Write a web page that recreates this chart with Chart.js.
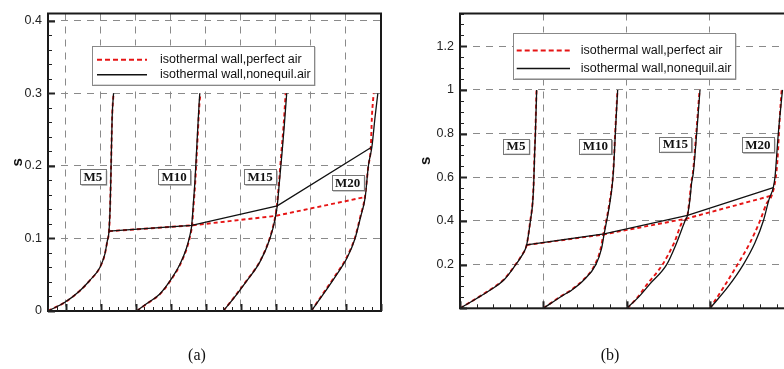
<!DOCTYPE html>
<html>
<head>
<meta charset="utf-8">
<script src="https://cdn.jsdelivr.net/npm/chart.js@4.4.1/dist/chart.umd.min.js"></script>
<style>
  html, body { margin: 0; padding: 0; background: #fff; overflow: hidden; width: 784px; height: 369px; }
  #wrapA { position: absolute; left: 0; top: 0; width: 392px; height: 369px; }
  #wrapB { position: absolute; left: 392px; top: 0; width: 420px; height: 369px; }
  .caption { position: absolute; top: 346px; width: 60px; text-align: center; line-height: 20px;
             font: 16px "Liberation Serif", "Times New Roman", serif; color: #111; }
</style>
</head>
<body>
<div id="wrapA"><canvas id="chartA" width="392" height="369"></canvas></div>
<div id="wrapB"><canvas id="chartB" width="420" height="369"></canvas></div>
<div class="caption" style="left:167px">(a)</div>
<div class="caption" style="left:580px">(b)</div>
<script>
const machLabels = ['M5', 'M10', 'M15', 'M20']
const legendTexts = ['isothermal wall,perfect air', 'isothermal wall,nonequil.air']

// panel (a): x in grid units, y = s
const aNoneqM5 = [[0,0],[0.48,0.012],[0.91,0.028],[1.19,0.042],[1.48,0.060],[1.62,0.078],[1.69,0.096],[1.74,0.110],[1.77,0.14],[1.79,0.177],[1.80,0.20],[1.83,0.267],[1.87,0.30]]
const aPerfM5 = [[0,0],[0.48,0.012],[0.91,0.028],[1.19,0.042],[1.48,0.060],[1.62,0.078],[1.69,0.096],[1.74,0.110],[1.77,0.14],[1.79,0.177],[1.80,0.20],[1.83,0.267],[1.87,0.30]]
const aNoneqM10 = [[2.53,0],[2.81,0.010],[3.19,0.0235],[3.48,0.0415],[3.76,0.064],[3.95,0.0865],[4.05,0.1045],[4.10,0.118],[4.15,0.15],[4.19,0.177],[4.24,0.222],[4.31,0.285],[4.33,0.30]]
const aPerfM10 = [[2.53,0],[2.82,0.010],[3.20,0.0235],[3.49,0.0415],[3.77,0.064],[3.96,0.0865],[4.06,0.1045],[4.11,0.118],[4.16,0.15],[4.20,0.177],[4.25,0.222],[4.32,0.285],[4.35,0.30]]
const aNoneqM15 = [[5.0,0],[5.29,0.017],[5.67,0.0415],[6.05,0.068],[6.33,0.0996],[6.48,0.127],[6.54,0.145],[6.60,0.177],[6.68,0.22],[6.74,0.255],[6.81,0.30]]
const aPerfM15 = [[5.0,0],[5.28,0.017],[5.66,0.0415],[6.04,0.068],[6.32,0.0996],[6.47,0.127],[6.53,0.145],[6.59,0.177],[6.66,0.22],[6.72,0.255],[6.78,0.30]]
const aNoneqM20 = [[7.51,0],[7.86,0.0235],[8.24,0.0505],[8.53,0.073],[8.76,0.100],[8.92,0.13],[9.05,0.157],[9.14,0.20],[9.24,0.226],[9.33,0.267],[9.41,0.30]]
const aPerfM20 = [[7.51,0],[7.84,0.0235],[8.22,0.0505],[8.51,0.073],[8.75,0.100],[8.91,0.13],[9.04,0.157],[9.14,0.20],[9.21,0.226],[9.24,0.267],[9.29,0.30]]
const aNoneqLink = [[1.74,0.110],[4.10,0.118],[6.54,0.145],[9.24,0.226]]
const aPerfLink = [[1.74,0.110],[4.11,0.118],[6.48,0.131],[9.04,0.157]]
const aYTicks = [0, 0.1, 0.2, 0.3, 0.4]
const aXGrid = [0.5, 1.5, 2.5, 3.5, 4.5, 5.5, 6.5, 7.5, 8.5, 9.5]
const aLabelX = [1.28, 3.6, 6.05, 8.55]
const aLabelY = [0.185, 0.185, 0.185, 0.177]

// panel (b)
const bNoneqM5 = [[0,0],[0.2,0.045],[0.36,0.083],[0.52,0.127],[0.66,0.195],[0.74,0.24],[0.80,0.29],[0.845,0.4],[0.873,0.486],[0.885,0.575],[0.895,0.7],[0.905,0.8],[0.92,1.0]]
const bPerfM5 = [[0,0],[0.2,0.046],[0.36,0.085],[0.52,0.130],[0.66,0.197],[0.74,0.243],[0.80,0.29],[0.843,0.4],[0.871,0.486],[0.884,0.575],[0.894,0.7],[0.904,0.8],[0.918,1.0]]
const bNoneqM10 = [[1,0],[1.24,0.06],[1.34,0.083],[1.48,0.127],[1.63,0.2],[1.70,0.276],[1.73,0.341],[1.76,0.4],[1.80,0.486],[1.83,0.575],[1.845,0.65],[1.864,0.8],[1.892,1.0]]
const bPerfM10 = [[1,0],[1.23,0.06],[1.33,0.083],[1.47,0.127],[1.62,0.2],[1.69,0.276],[1.72,0.338],[1.755,0.4],[1.795,0.486],[1.828,0.575],[1.843,0.65],[1.862,0.8],[1.89,1.0]]
const bNoneqM15 = [[2,0],[2.14,0.05],[2.28,0.112],[2.48,0.2],[2.60,0.3],[2.70,0.4],[2.73,0.426],[2.76,0.5],[2.78,0.575],[2.80,0.62],[2.84,0.8],[2.88,1.0]]
const bPerfM15 = [[2.01,0],[2.13,0.05],[2.25,0.112],[2.43,0.2],[2.57,0.3],[2.68,0.4],[2.72,0.411],[2.755,0.5],[2.775,0.575],[2.795,0.62],[2.835,0.8],[2.875,1.0]]
const bNoneqM20 = [[3,0],[3.22,0.1],[3.40,0.2],[3.54,0.3],[3.64,0.4],[3.71,0.5],[3.76,0.553],[3.78,0.6],[3.82,0.8],[3.87,1.0]]
const bPerfM20 = [[3,0],[3.17,0.1],[3.33,0.2],[3.48,0.3],[3.60,0.4],[3.68,0.48],[3.74,0.516],[3.79,0.6],[3.81,0.68],[3.84,0.89],[3.86,1.0]]
const bNoneqLink = [[0.80,0.29],[1.73,0.341],[2.73,0.426],[3.76,0.553]]
const bPerfLink = [[0.80,0.29],[1.72,0.338],[2.72,0.411],[3.74,0.516]]
const bYTicks = [0, 0.2, 0.4, 0.6, 0.8, 1, 1.2]
const bXGrid = [1, 2, 3]
const bLabelX = [0.672, 1.626, 2.586, 3.574]
const bLabelY = [0.743, 0.743, 0.752, 0.749]

const RED = 'rgb(230,20,20)'
const BLACK = '#111'
const FONT = '"Liberation Sans", Arial, sans-serif'

const toPoints = (pairs) => pairs.map(([x, y]) => ({x, y}))

const lineSet = (pairs, color, width, dash, smooth) => ({
  data: toPoints(pairs),
  borderColor: color,
  borderWidth: width,
  borderDash: dash,
  showLine: true,
  pointRadius: 0,
  fill: false,
  tension: 0,
  cubicInterpolationMode: smooth ? 'monotone' : 'default',
})

// black first so it is painted on top of the red dashes; the last entry is the straight link line
const buildSets = (noneq, perf) => [
  ...noneq.map((p, i) => lineSet(p, BLACK, 1.3, [], i < noneq.length - 1)),
  ...perf.map((p, i) => lineSet(p, RED, 1.9, [4, 3], i < perf.length - 1)),
]

const decor = {
  id: 'decor',
  afterDatasetsDraw(chart, _args, o) {
    const {ctx, chartArea: ca, scales: {x, y}} = chart

    // boxed mach labels
    ctx.save()
    ctx.font = 'bold 13px "Liberation Serif", "Times New Roman", serif'
    ctx.textAlign = 'center'
    ctx.textBaseline = 'middle'
    machLabels.forEach((text, i) => {
      const px = x.getPixelForValue(o.labelX[i])
      const py = y.getPixelForValue(o.labelY[i])
      const w = ctx.measureText(text).width + 7
      const h = 15
      ctx.fillStyle = '#a0a0a0'
      ctx.fillRect(px - w / 2 + 1.5, py - h / 2 + 1.5, w, h)
      ctx.fillStyle = '#fff'
      ctx.fillRect(px - w / 2, py - h / 2, w, h)
      ctx.strokeStyle = '#777'
      ctx.lineWidth = 1
      ctx.strokeRect(Math.round(px - w / 2) + 0.5, Math.round(py - h / 2) + 0.5, Math.round(w), h)
      ctx.fillStyle = '#111'
      ctx.fillText(text, px, py + 1)
    })
    ctx.restore()

    // legend box
    const lg = o.legend
    const lx = ca.left + lg.left
    const ly = ca.top + lg.top
    ctx.save()
    ctx.fillStyle = '#b0b0b0'
    ctx.fillRect(lx + 1.5, ly + 1.5, lg.width, lg.height)
    ctx.fillStyle = '#fff'
    ctx.fillRect(lx, ly, lg.width, lg.height)
    ctx.strokeStyle = '#888'
    ctx.lineWidth = 1
    ctx.strokeRect(Math.round(lx) + 0.5, Math.round(ly) + 0.5, Math.round(lg.width), Math.round(lg.height))
    const styles = [[RED, 1.9, [5, 3]], [BLACK, 1.5, []]]
    styles.forEach(([color, width, dash], i) => {
      const ry = ly + lg.rows[i]
      ctx.beginPath()
      ctx.setLineDash(dash)
      ctx.strokeStyle = color
      ctx.lineWidth = width
      ctx.moveTo(lx + lg.lineStart, ry)
      ctx.lineTo(lx + lg.lineEnd, ry)
      ctx.stroke()
      ctx.setLineDash([])
      ctx.fillStyle = '#111'
      ctx.font = '12.5px ' + FONT
      ctx.textAlign = 'left'
      ctx.textBaseline = 'middle'
      ctx.fillText(legendTexts[i], lx + lg.textStart, ry)
    })
    ctx.restore()

    // frame
    ctx.save()
    ctx.strokeStyle = '#1a1a1a'
    ctx.lineWidth = 2
    ctx.strokeRect(ca.left, ca.top, ca.right - ca.left, ca.bottom - ca.top)

    // inward tick marks
    ctx.strokeStyle = '#222'
    const isMajor = (v, list) => list.some(m => Math.abs(m - v) < 1e-6)
    for (let i = 0; i * o.xMinor <= x.max + 1e-9; i++) {
      const v = i * o.xMinor
      const major = isMajor(v, o.xMajor)
      const px = Math.round(x.getPixelForValue(v)) + 0.5
      ctx.lineWidth = major ? 2 : 1
      ctx.beginPath()
      ctx.moveTo(px, ca.bottom)
      ctx.lineTo(px, ca.bottom - (major ? 7 : 4))
      ctx.stroke()
    }
    for (let i = 0; i * o.yMinor <= y.max + 1e-9; i++) {
      const v = i * o.yMinor
      const major = isMajor(v, o.yMajor)
      const py = Math.round(y.getPixelForValue(v)) + 0.5
      ctx.lineWidth = major ? 2 : 1
      ctx.beginPath()
      ctx.moveTo(ca.left, py)
      ctx.lineTo(ca.left + (major ? 7 : 4), py)
      ctx.stroke()
    }
    ctx.restore()
  }
}

function makeChart(canvasId, p) {
  const gridColor = (c, skip) => skip(c.tick.value) ? 'rgba(0,0,0,0)' : '#8a8a8a'
  return new Chart(document.getElementById(canvasId), {
    type: 'scatter',
    data: {datasets: p.datasets},
    options: {
      responsive: false,
      animation: false,
      devicePixelRatio: 1,
      layout: {padding: {top: 7, right: p.padRight, left: 0, bottom: 0}},
      plugins: {
        legend: {display: false},
        tooltip: {enabled: false},
        decor: p.decor,
      },
      scales: {
        x: {
          type: 'linear',
          min: 0,
          max: p.xMax,
          afterBuildTicks: (s) => { s.ticks = p.xGrid.map(value => ({value})) },
          afterFit: (s) => { s.height = p.xAxisHeight },
          ticks: {display: false},
          grid: {drawTicks: false, lineWidth: 1, color: (c) => gridColor(c, v => v <= 0 || v >= p.xMax)},
          border: {display: false, dash: [7, 6]},
        },
        y: {
          type: 'linear',
          min: 0,
          max: p.yMax,
          afterBuildTicks: (s) => { s.ticks = p.yTicks.map(value => ({value})) },
          afterFit: (s) => { s.width = p.yAxisWidth },
          ticks: {
            padding: 6,
            color: '#222',
            font: {family: FONT, size: 12.5},
            callback: (v) => (v === 0 && !p.showZero) ? '' : String(Math.round(v * 10) / 10),
          },
          title: {
            display: true,
            text: 's',
            color: '#111',
            font: {family: FONT, size: 15, weight: 'bold'},
            padding: {top: p.titlePad, bottom: 0},
          },
          grid: {drawTicks: false, lineWidth: 1, color: (c) => gridColor(c, v => v <= 0)},
          border: {display: false, dash: [7, 6]},
        },
      },
    },
    plugins: [decor],
  })
}

makeChart('chartA', {
  datasets: buildSets([aNoneqM5, aNoneqM10, aNoneqM15, aNoneqM20, aNoneqLink],
                      [aPerfM5, aPerfM10, aPerfM15, aPerfM20, aPerfLink]),
  xMax: 9.5, yMax: 0.41, xGrid: aXGrid, yTicks: aYTicks, showZero: true,
  padRight: 11, xAxisHeight: 58, yAxisWidth: 48, titlePad: 8.5,
  decor: {
    labelX: aLabelX, labelY: aLabelY,
    xMajor: aXGrid, xMinor: 0.25, yMajor: aYTicks, yMinor: 0.02,
    legend: {left: 44, top: 32, width: 222, height: 39, rows: [14.3, 29.3], lineStart: 5, lineEnd: 55, textStart: 68},
  },
})

makeChart('chartB', {
  datasets: buildSets([bNoneqM5, bNoneqM10, bNoneqM15, bNoneqM20, bNoneqLink],
                      [bPerfM5, bPerfM10, bPerfM15, bPerfM20, bPerfLink]),
  xMax: 4, yMax: 1.35, xGrid: bXGrid, yTicks: bYTicks, showZero: false,
  padRight: 18.7, xAxisHeight: 60.7, yAxisWidth: 68, titlePad: 24.6,
  decor: {
    labelX: bLabelX, labelY: bLabelY,
    xMajor: [0, 1, 2, 3, 4], xMinor: 0.2, yMajor: bYTicks, yMinor: 0.05,
    legend: {left: 53.3, top: 19, width: 221.7, height: 45.7, rows: [18, 36], lineStart: 3.4, lineEnd: 56.7, textStart: 67.4},
  },
})
</script>
</body>
</html>
